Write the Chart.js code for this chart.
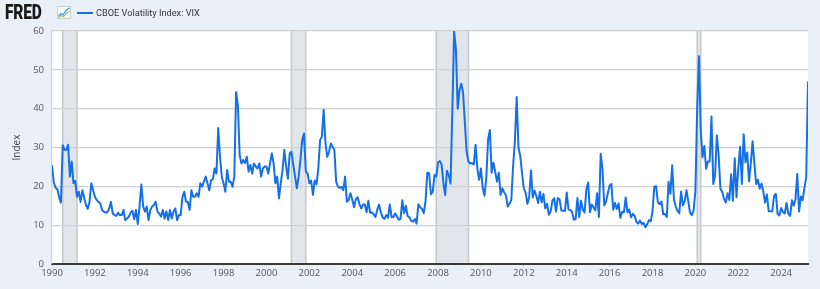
<!DOCTYPE html>
<html>
<head>
<meta charset="utf-8">
<script src="https://cdn.jsdelivr.net/npm/chart.js@4.4.1/dist/chart.umd.min.js"></script>
<style>
  html, body { margin: 0; padding: 0; background: #e9f0f8; }
  #wrap { position: relative; width: 820px; height: 289px; overflow: hidden; background: #e9f0f8; }
  #c { position: absolute; left: 0; top: 0; }
  #logo { position: absolute; left: 5px; top: 0px; font: 900 21px Roboto, "Liberation Sans", Arial, sans-serif; color: #1a1a1a; transform: scaleX(0.74); transform-origin: 0 0; letter-spacing: -0.3px; line-height: 25px; }
  #icon { position: absolute; left: 57px; top: 6px; }
  #legline { position: absolute; left: 77px; top: 12px; width: 16px; height: 2px; background: #1570e6; }
  #legtext { position: absolute; left: 96px; top: 6px; font: 9.2px Roboto, "Open Sans", sans-serif; color: #333; line-height: 14px; white-space: nowrap; }
</style>
</head>
<body>
<div id="wrap">
  <canvas id="c" width="820" height="289"></canvas>
  <div id="logo">FRED</div>
  <svg id="icon" width="14" height="13" viewBox="0 0 14 13">
    <rect x="0.5" y="0.5" width="13" height="12" fill="#f4f6f8" stroke="#c9ced4" stroke-width="1"/>
    <polyline points="1.5,10 4,7.5 6,9 9,4.5 12.5,2" fill="none" stroke="#4a9be0" stroke-width="1.2"/>
    <polyline points="1.5,11.5 4,9.5 6.5,10.5 9.5,7 12.5,5.5" fill="none" stroke="#8cc06a" stroke-width="1.1"/>
  </svg>
  <div id="legline"></div>
  <div id="legtext">CBOE Volatility Index: VIX</div>
</div>
<script>
// ---- data (monthly, end of period) ----
const startYear = 1990;   // first observation: Jan 1990
const vix1990s = [
  25.4, 21.0, 19.6, 19.3, 17.2, 15.8, 30.6, 29.4, 29.4, 30.7, 22.5, 26.4,
  20.8, 21.4, 17.3, 18.6, 16.0, 19.0, 17.0, 15.2, 14.2, 16.0, 20.8, 19.0,
  17.3, 16.5, 16.0, 15.6, 13.9, 13.5, 13.2, 13.4, 14.3, 16.0, 13.0, 12.6,
  12.4, 13.2, 12.6, 12.6, 13.9, 11.3, 11.7, 12.2, 13.2, 13.7, 11.5, 13.9,
  10.3, 15.0, 20.5, 14.8, 13.5, 14.8, 11.3, 13.9, 14.8, 15.2, 16.0, 13.5,
  13.0, 12.2, 13.9, 11.7, 13.5, 11.3, 13.9, 11.7, 13.5, 14.3, 11.3, 12.6,
  12.6, 17.3, 18.6, 16.0, 16.0, 13.9, 19.0, 17.3, 17.3, 18.2, 17.3, 20.8,
  19.9, 21.2, 22.5, 20.8, 19.0, 21.6, 21.8, 24.6, 23.3, 35.0, 27.6, 22.5,
  20.8, 18.6, 24.2, 21.2, 21.2, 19.9, 22.5, 44.3, 40.9, 28.0, 25.9, 26.8,
  26.0, 27.6, 23.8, 25.5, 23.3, 25.9, 25.1, 24.6, 25.9, 22.5, 24.6, 25.1
];
const vix2000s = [
  25.1, 23.3, 25.9, 28.5, 25.9, 20.8, 22.5, 16.9, 20.8, 24.2, 29.4, 25.1,
  22.0, 28.5, 28.9, 25.5, 22.5, 19.5, 22.5, 26.8, 31.9, 33.6, 23.8, 23.3,
  20.8, 21.5, 17.8, 21.5, 20.5, 24.6, 31.9, 32.8, 39.7, 31.1, 27.6, 28.9,
  31.0, 30.2, 29.4, 21.2, 19.9, 19.6, 19.9, 19.0, 22.5, 16.0, 16.5, 18.2,
  16.6, 14.6, 16.7, 17.2, 15.5, 14.3, 15.3, 15.3, 13.3, 16.3, 13.2, 13.3,
  12.8, 12.1, 14.0, 15.3, 13.3, 12.0, 11.6, 12.6, 11.9, 15.3, 12.1, 12.1,
  13.0, 12.3, 11.4, 11.6, 16.4, 13.1, 15.0, 12.3, 12.0, 11.1, 10.9, 11.6,
  10.4, 15.4, 14.6, 14.2, 13.1, 16.2, 23.5, 23.4, 18.0, 18.5, 22.9, 22.5,
  26.2, 26.5, 25.6, 20.8, 17.8, 24.0, 22.9, 20.7, 39.4, 59.9, 55.3, 40.0,
  44.8, 46.4, 44.1, 36.5, 28.9, 26.4, 25.9, 26.0, 25.6, 30.7, 24.5, 21.7
];
const vix2010s = [
  24.6, 19.5, 17.6, 22.1, 32.1, 34.5, 23.5, 26.1, 23.7, 21.2, 23.5, 17.8,
  19.5, 18.4, 17.7, 14.8, 15.5, 16.5, 25.3, 31.6, 43.0, 30.0, 27.8, 23.4,
  19.4, 18.4, 15.5, 17.2, 24.1, 17.1, 18.9, 17.5, 15.7, 18.6, 15.9, 18.0,
  14.3, 15.5, 12.7, 13.5, 16.3, 16.9, 13.5, 17.0, 16.6, 13.8, 13.7, 13.7,
  18.4, 14.0, 13.9, 13.4, 11.4, 11.6, 17.0, 12.1, 16.3, 14.0, 13.3, 19.2,
  21.0, 13.3, 15.3, 14.6, 13.8, 18.2, 12.1, 28.4, 24.5, 15.1, 16.1, 18.2,
  20.2, 20.6, 14.0, 15.7, 14.2, 15.6, 11.9, 13.4, 13.3, 17.1, 13.3, 14.0,
  12.0, 12.9, 12.4, 10.8, 10.4, 11.2, 10.3, 10.6, 9.5, 10.2, 11.3, 11.0,
  13.5, 19.9, 20.0, 15.9, 15.4, 16.1, 12.8, 12.9, 12.1, 21.2, 18.1, 25.4,
  16.6, 14.8, 13.7, 13.1, 18.7, 15.1, 16.1, 19.0, 16.2, 13.2, 12.6, 13.8
];
const vix2020s = [
  18.8, 40.1, 53.5, 34.2, 27.5, 30.4, 24.5, 26.4, 26.4, 38.0, 20.6, 22.8,
  33.1, 28.0, 19.4, 18.6, 16.8, 15.8, 18.2, 16.5, 23.1, 16.3, 27.2, 17.2,
  24.8, 30.2, 20.6, 33.4, 26.2, 28.7, 21.3, 25.9, 31.6, 25.9, 20.6, 21.7,
  19.4, 20.7, 18.7, 15.8, 17.9, 13.6, 13.6, 13.6, 17.5, 18.1, 12.9, 12.5,
  14.4, 13.4, 13.0, 15.7, 12.9, 12.4, 16.4, 15.0, 16.7, 23.2, 13.5, 17.4,
  16.4, 19.6, 22.3, 47.0
];
const tickYears = [1990,1992,1994,1996,1998,2000,2002,2004,2006,2008,2010,2012,2014,2016,2018,2020,2022,2024];
const recessionStarts = ['1990-07','2001-03','2007-12','2020-02'];
const recessionEnds   = ['1991-03','2001-11','2009-06','2020-04'];
const seriesName = 'CBOE Volatility Index: VIX';
const yTitle = 'Index';

// ---- build ----
const vix = [].concat(vix1990s, vix2000s, vix2010s, vix2020s);
const points = vix.map((v, i) => ({ x: startYear + i / 12, y: v }));
const lastX = startYear + (vix.length - 1) / 12;
function ym(s) { const p = s.split('-'); return +p[0] + (+p[1] - 1) / 12; }

const bgPlugin = {
  id: 'bg',
  beforeDraw(chart) {
    const { ctx, chartArea: a, scales: { x } } = chart;
    ctx.save();
    ctx.fillStyle = '#ffffff';
    ctx.fillRect(a.left, a.top, a.right - a.left, a.bottom - a.top);
    for (let k = 0; k < recessionStarts.length; k++) {
      const x0 = x.getPixelForValue(ym(recessionStarts[k]));
      const x1 = x.getPixelForValue(ym(recessionEnds[k]));
      ctx.fillStyle = '#e2e6eb';
      ctx.fillRect(x0, a.top, x1 - x0, a.bottom - a.top);
      ctx.strokeStyle = '#c4c7cb';
      ctx.lineWidth = 1.5;
      ctx.beginPath();
      ctx.moveTo(x0, a.top); ctx.lineTo(x0, a.bottom);
      ctx.moveTo(x1, a.top); ctx.lineTo(x1, a.bottom);
      ctx.stroke();
    }
    ctx.restore();
  }
};

new Chart(document.getElementById('c'), {
  type: 'line',
  data: {
    datasets: [{
      label: seriesName,
      data: points,
      borderColor: '#1570e6',
      borderWidth: 2,
      pointRadius: 0,
      tension: 0,
      fill: false,
      borderJoinStyle: 'round'
    }]
  },
  options: {
    responsive: false,
    animation: false,
    devicePixelRatio: 1,
    layout: { padding: { top: 31, right: 12, left: 0, bottom: 0 } },
    plugins: { legend: { display: false }, tooltip: { enabled: false } },
    scales: {
      x: {
        type: 'linear',
        min: startYear,
        max: lastX,
        afterBuildTicks: s => { s.ticks = tickYears.map(v => ({ value: v })); },
        afterFit: s => { s.height = 25; },
        ticks: {
          callback: v => String(v),
          font: { family: '"Open Sans", sans-serif', size: 9.5 },
          color: '#555',
          padding: 1,
          maxRotation: 0,
          autoSkip: false
        },
        grid: { display: true, drawOnChartArea: false, drawTicks: true, tickLength: 3, color: '#cfd6df' },
        border: { display: true, color: '#3a3a3a', width: 2 }
      },
      y: {
        min: 0,
        max: 60,
        afterFit: s => { s.width = 52; },
        ticks: {
          stepSize: 10,
          font: { family: '"Open Sans", sans-serif', size: 9.5 },
          color: '#555',
          padding: 8
        },
        grid: { color: '#d0d0d0', lineWidth: 1.2, drawTicks: false },
        border: { display: true, color: '#d0d0d0', width: 1.2 },
        title: {
          display: true,
          text: yTitle,
          font: { family: '"Open Sans", sans-serif', size: 10 },
          color: '#444',
          padding: { top: 11, bottom: 0 }
        }
      }
    }
  },
  plugins: [bgPlugin]
});
</script>
</body>
</html>
